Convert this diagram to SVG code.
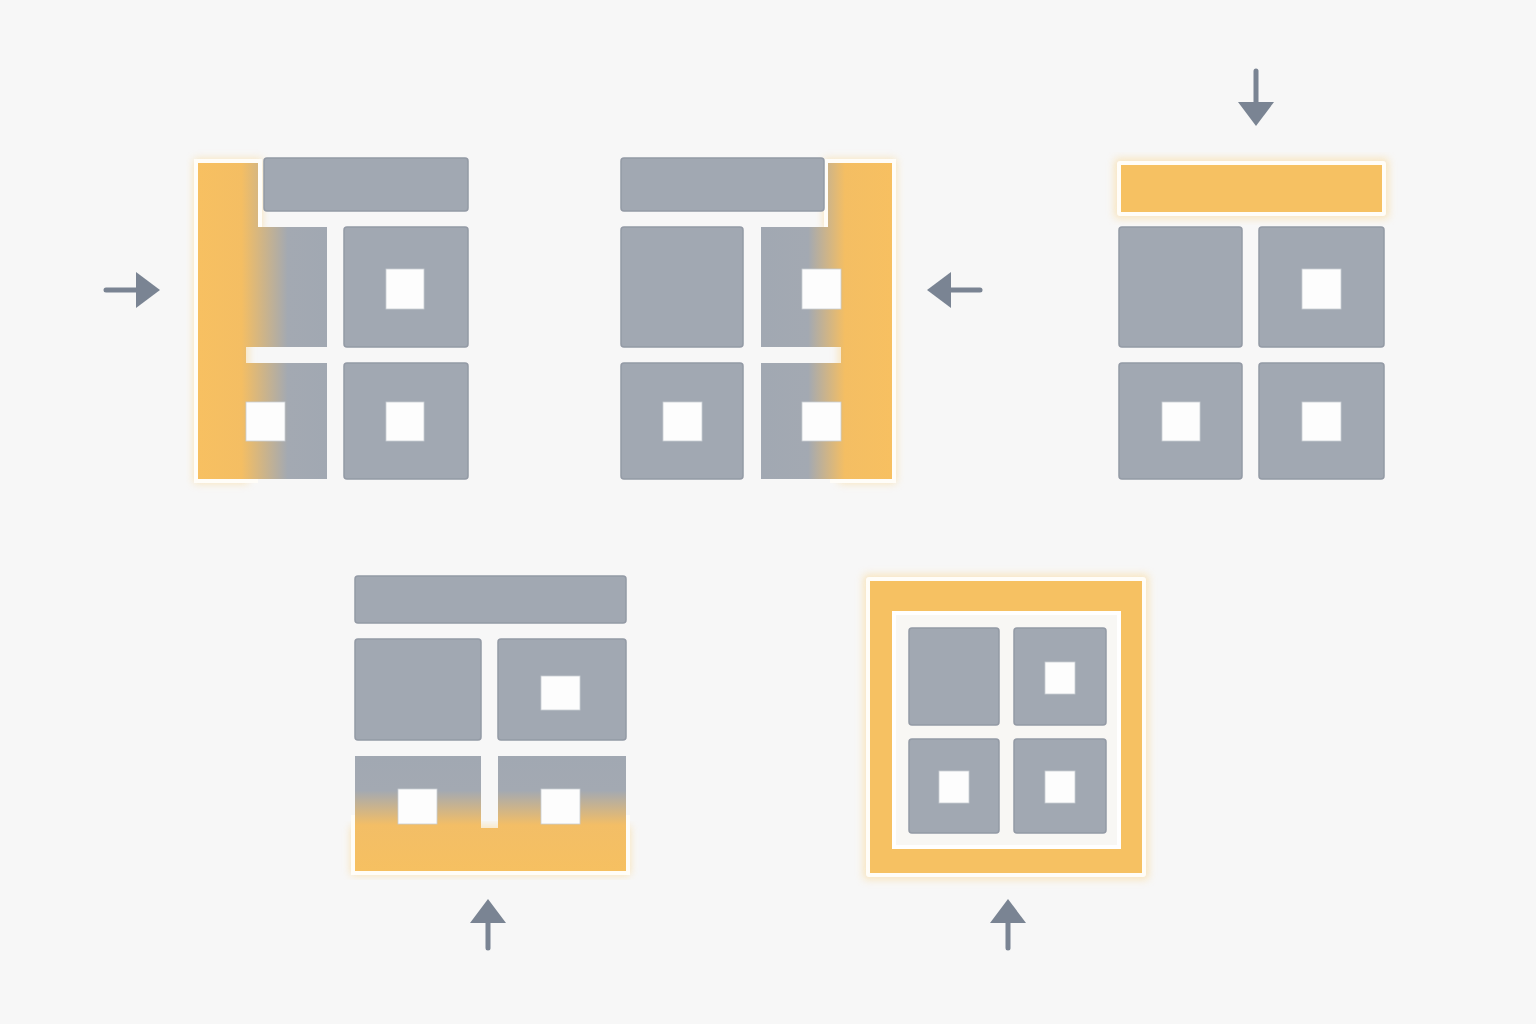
<svg xmlns="http://www.w3.org/2000/svg" width="1536" height="1024" viewBox="0 0 1536 1024">
  <style>
    .cell { fill: #a1a8b2; stroke: #939aa5; stroke-width: 1.5; }
    .hole { fill: #fdfdfd; stroke: #c9cdd3; stroke-width: 0.8; }
    .hl { fill: #f6c162; stroke: #fffdf8; stroke-width: 4; }
    .mix { stroke: none; }
    .edge { fill: none; stroke: #fffdf8; stroke-width: 4; stroke-linejoin: miter; }
    .glow { fill: none; stroke: #f9cf7c; stroke-width: 8; opacity: 0.55; filter: url(#blur); }
    .arrow { stroke: #7a8493; stroke-width: 5; stroke-linecap: round; fill: none; marker-end: url(#head); }
  </style>
  <defs>
    <filter id="blur" x="-20%" y="-20%" width="140%" height="140%">
      <feGaussianBlur stdDeviation="4"/>
    </filter>
    <marker id="head" markerUnits="userSpaceOnUse" markerWidth="24" markerHeight="36" refX="0" refY="18" orient="auto">
      <path d="M0,0 L24,18 L0,36 Z" fill="#7a8493"/>
    </marker>
    <linearGradient id="g1" gradientUnits="userSpaceOnUse" x1="198" y1="0" x2="330" y2="0">
      <stop offset="0" stop-color="#f7c061"/>
      <stop offset="0.33" stop-color="#f4be63"/>
      <stop offset="0.68" stop-color="#a3a9b2"/>
      <stop offset="1" stop-color="#a1a8b2"/>
    </linearGradient>
    <linearGradient id="g2" gradientUnits="userSpaceOnUse" x1="761" y1="0" x2="892" y2="0">
      <stop offset="0" stop-color="#a1a8b2"/>
      <stop offset="0.36" stop-color="#a3a9b2"/>
      <stop offset="0.64" stop-color="#f4be63"/>
      <stop offset="1" stop-color="#f7c061"/>
    </linearGradient>
    <linearGradient id="g4" gradientUnits="userSpaceOnUse" x1="0" y1="756" x2="0" y2="871">
      <stop offset="0" stop-color="#a1a8b2"/>
      <stop offset="0.3" stop-color="#a3a9b2"/>
      <stop offset="0.6" stop-color="#f3be66"/>
      <stop offset="1" stop-color="#f6c061"/>
    </linearGradient>
  </defs>

  <rect x="0" y="0" width="1536" height="1024" fill="#f7f7f7"/>

  <!-- Panel 1: left sidebar highlighted -->
  <g id="panel-left">
    <path class="glow" d="M198,163 H258 V227 H244 V479 H198 Z"/>
    <path class="mix" fill="url(#g1)" d="M198,163 H258 V227 H327 V347 H246 V363 H327 V479 H198 Z"/>
    <path class="edge" d="M258,481 H196 V161 H260 V227"/>
    <rect class="cell" x="264" y="158" width="204" height="53" rx="3"/>
    <rect class="cell" x="344" y="227" width="124" height="120" rx="3"/>
    <rect class="cell" x="344" y="363" width="124" height="116" rx="3"/>
    <rect class="hole" x="386" y="269" width="38" height="40"/>
    <rect class="hole" x="246" y="402" width="39" height="39"/>
    <rect class="hole" x="386" y="402" width="38" height="39"/>
  </g>

  <!-- Panel 2: right sidebar highlighted -->
  <g id="panel-right">
    <path class="glow" d="M828,163 H892 V479 H843 V227 H828 Z"/>
    <path class="mix" fill="url(#g2)" d="M828,163 H892 V479 H761 V363 H841 V347 H761 V227 H828 Z"/>
    <path class="edge" d="M826,227 V161 H894 V481 H830"/>
    <rect class="cell" x="621" y="158" width="203" height="53" rx="3"/>
    <rect class="cell" x="621" y="227" width="122" height="120" rx="3"/>
    <rect class="cell" x="621" y="363" width="122" height="116" rx="3"/>
    <rect class="hole" x="802" y="269" width="39" height="40"/>
    <rect class="hole" x="663" y="402" width="39" height="39"/>
    <rect class="hole" x="802" y="402" width="39" height="39"/>
  </g>

  <!-- Panel 3: header highlighted -->
  <g id="panel-top">
    <rect class="glow" x="1119" y="163" width="265" height="51"/>
    <rect class="hl" x="1119" y="163" width="265" height="51" rx="1"/>
    <rect class="cell" x="1119" y="227" width="123" height="120" rx="3"/>
    <rect class="cell" x="1259" y="227" width="125" height="120" rx="3"/>
    <rect class="cell" x="1119" y="363" width="123" height="116" rx="3"/>
    <rect class="cell" x="1259" y="363" width="125" height="116" rx="3"/>
    <rect class="hole" x="1302" y="269" width="39" height="40"/>
    <rect class="hole" x="1162" y="402" width="38" height="39"/>
    <rect class="hole" x="1302" y="402" width="39" height="39"/>
  </g>

  <!-- Panel 4: footer highlighted -->
  <g id="panel-bottom">
    <path class="glow" d="M355,830 H626 V871 H355 Z"/>
    <rect class="cell" x="355" y="576" width="271" height="47" rx="3"/>
    <rect class="cell" x="355" y="639" width="126" height="101" rx="3"/>
    <rect class="cell" x="498" y="639" width="128" height="101" rx="3"/>
    <path class="mix" fill="url(#g4)" d="M355,756 H481 V828 H498 V756 H626 V871 H355 Z"/>
    <path class="edge" d="M353,815 V873 H628 V815"/>
    <rect class="hole" x="541" y="676" width="39" height="34"/>
    <rect class="hole" x="398" y="789" width="39" height="35"/>
    <rect class="hole" x="541" y="789" width="39" height="35"/>
  </g>

  <!-- Panel 5: frame highlighted -->
  <g id="panel-frame">
    <rect class="glow" x="868" y="579" width="276" height="296"/>
    <rect class="hl" x="868" y="579" width="276" height="296" rx="1"/>
    <rect x="894" y="613" width="225" height="234" fill="#f8f7f4" stroke="#ffffff" stroke-width="4"/>
    <rect class="cell" x="909" y="628" width="90" height="97" rx="3"/>
    <rect class="cell" x="1014" y="628" width="92" height="97" rx="3"/>
    <rect class="cell" x="909" y="739" width="90" height="94" rx="3"/>
    <rect class="cell" x="1014" y="739" width="92" height="94" rx="3"/>
    <rect class="hole" x="1045" y="662" width="30" height="32"/>
    <rect class="hole" x="939" y="771" width="30" height="32"/>
    <rect class="hole" x="1045" y="771" width="30" height="32"/>
  </g>

  <g id="connectors">
    <line class="arrow" x1="106" y1="290" x2="136" y2="290"/>
    <line class="arrow" x1="980" y1="290" x2="951" y2="290"/>
    <line class="arrow" x1="1256" y1="71" x2="1256" y2="102"/>
    <line class="arrow" x1="488" y1="948" x2="488" y2="923"/>
    <line class="arrow" x1="1008" y1="948" x2="1008" y2="923"/>
  </g>
</svg>
